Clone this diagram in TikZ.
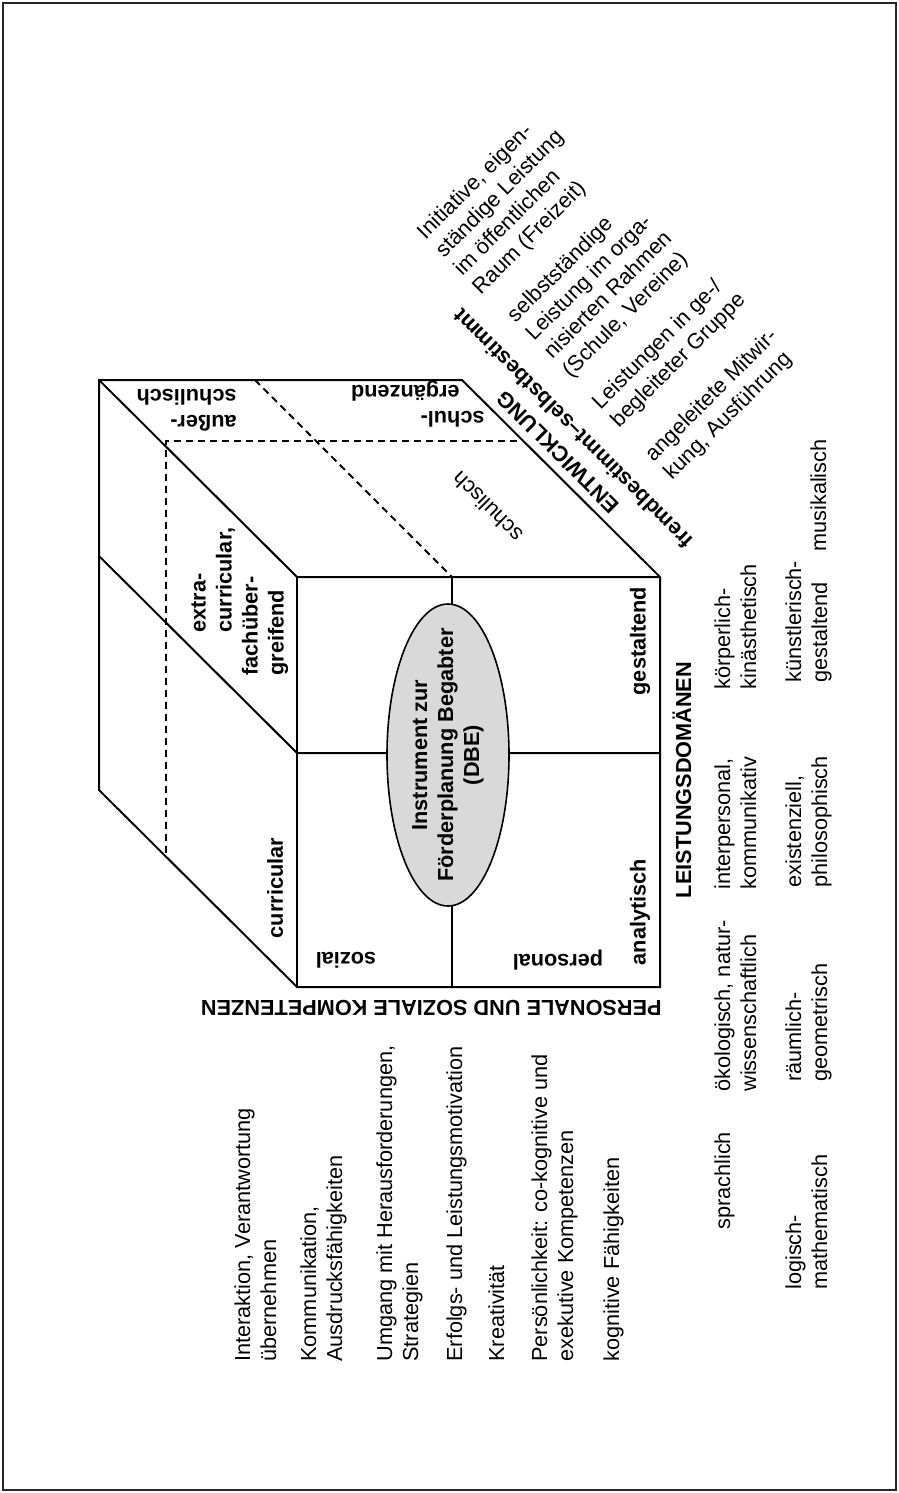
\documentclass[tikz,border=0pt]{standalone}
\usepackage{fontspec}
\setmainfont{Liberation Sans}
\usetikzlibrary{shapes.geometric}
\begin{document}
\begin{tikzpicture}[x=0.5pt,y=-0.5pt,
  edge/.style={line width=1pt, line join=miter},
  hid/.style={line width=1pt, dash pattern=on 3.5pt off 2.5pt},
  lbl/.style={font=\fontsize{10.85}{13}\selectfont, inner sep=0pt, align=left},
  blbl/.style={inner sep=0pt, align=left, font=\fontsize{10.85}{13}\selectfont\bfseries},
]
\useasboundingbox (0,0) rectangle (899,1493);
\draw[line width=0.8pt, draw=black!85] (3,3) rectangle (896,1490);

% cube corners
\coordinate (A) at (99,380);
\coordinate (B) at (462,380);
\coordinate (C) at (660,577);
\coordinate (D) at (297,577);
\coordinate (E) at (297,987);
\coordinate (F) at (660,987);
\coordinate (G) at (99,790);
\coordinate (L1) at (99,556);
\coordinate (L2) at (297,753);
\coordinate (R2) at (660,753);
\coordinate (T1) at (452,577);
\coordinate (T2) at (452,987);
\coordinate (H1) at (255,380);
\coordinate (H2) at (166,441);
\coordinate (H3) at (517,441);
\coordinate (H4) at (166,857);

\draw[edge] (A) -- (B) -- (C) -- (F) -- (E) -- (G) -- cycle;
\draw[edge] (A) -- (D) -- (C);
\draw[edge] (D) -- (E);
\draw[edge] (L1) -- (L2) -- (R2);
\draw[edge] (T1) -- (T2);
\draw[hid] (H1) -- (T1);
\draw[hid] (H3) -- (H2) -- (H4);

% central ellipse
\node[ellipse, draw, line width=0.8pt, fill=gray!30, minimum width=61pt, minimum height=151pt, inner sep=0pt] (core) at (448,755) {};
\node[blbl, align=center, rotate=90] (coretext) at (core.center) {Instrument zur\\Förderplanung Begabter\\(DBE)};

% face labels
\node[blbl, rotate=90] (curr) at (275,888) {curricular};
\node[blbl, rotate=90, anchor=north west] (extra) at (191,676) {\hspace*{21.5pt}extra-\\\hspace*{21.5pt}curricular,\\fachüber-\\greifend};
\node[blbl, rotate=90] (gest) at (640,641) {gestaltend};
\node[blbl, rotate=90] (anal) at (640,912) {analytisch};
\node[blbl, rotate=180] (soz) at (346,960) {sozial};
\node[blbl, rotate=180] (pers) at (558,960) {personal};
\node[lbl, rotate=135] (schul) at (487,507) {schulisch};
\node[blbl, rotate=180, anchor=north west] (ergz) at (485,428) {schul-\\\hspace*{12.5pt}ergänzend};
\node[blbl, rotate=180, anchor=north west] (ausser) at (237,432) {außer-\\schulisch};

% axis titles
\node[blbl, rotate=135] (entw) at (558,452) {ENTWICKLUNG};
\node[blbl, rotate=135] (fremd) at (573,429) {fremdbestimmt–selbstbestimmt};
\node[blbl, rotate=180, anchor=west] (perssoz) at (662,1008) {PERSONALE UND SOZIALE KOMPETENZEN};
\node[blbl, rotate=90] (leist) at (682,780) {LEISTUNGSDOMÄNEN};

% left list
\node[lbl, rotate=90, anchor=north west] (k1) at (234,1362) {Interaktion, Verantwortung\\übernehmen};
\node[lbl, rotate=90, anchor=north west] (k2) at (300,1362) {Kommunikation,\\Ausdrucksfähigkeiten};
\node[lbl, rotate=90, anchor=north west] (k3) at (376,1362) {Umgang mit Herausforderungen,\\Strategien};
\node[lbl, rotate=90, anchor=north west] (k4) at (446,1362) {Erfolgs- und Leistungsmotivation};
\node[lbl, rotate=90, anchor=north west] (k5) at (488,1362) {Kreativität};
\node[lbl, rotate=90, anchor=north west] (k6) at (531,1362) {Persönlichkeit: co-kognitive und\\exekutive Kompetenzen};
\node[lbl, rotate=90, anchor=north west] (k7) at (603,1362) {kognitive Fähigkeiten};

% domains
\node[lbl, rotate=90, anchor=north west] (d1) at (714,1230) {sprachlich};
\node[lbl, rotate=90, anchor=north west] (d2) at (714,1092) {ökologisch, natur-\\wissenschaftlich};
\node[lbl, rotate=90, anchor=north west] (d3) at (714,890) {interpersonal,\\kommunikativ};
\node[lbl, rotate=90, anchor=north west] (d4) at (714,690) {körperlich-\\kinästhetisch};
\node[lbl, rotate=90, anchor=north west] (d5) at (785,1290) {logisch-\\mathematisch};
\node[lbl, rotate=90, anchor=north west] (d6) at (785,1082) {räumlich-\\geometrisch};
\node[lbl, rotate=90, anchor=north west] (d7) at (785,888) {existenziell,\\philosophisch};
\node[lbl, rotate=90, anchor=north west] (d8) at (785,683) {künstlerisch-\\gestaltend};
\node[lbl, rotate=90, anchor=north west] (d9) at (810,552) {musikalisch};

% development levels
\node[lbl, rotate=45, anchor=north west] (e1) at (414,229) {Initiative, eigen-\\ständige Leistung\\im öffentlichen\\Raum (Freizeit)};
\node[lbl, rotate=45, anchor=north west] (e2) at (504,312) {selbstständige\\Leistung im orga-\\nisierten Rahmen\\(Schule, Vereine)};
\node[lbl, rotate=45, anchor=north west] (e3) at (589,399) {Leistungen in ge-/\\begleiteter Gruppe};
\node[lbl, rotate=45, anchor=north west] (e4) at (642,451) {angeleitete Mitwir-\\kung, Ausführung};
\end{tikzpicture}
\end{document}
